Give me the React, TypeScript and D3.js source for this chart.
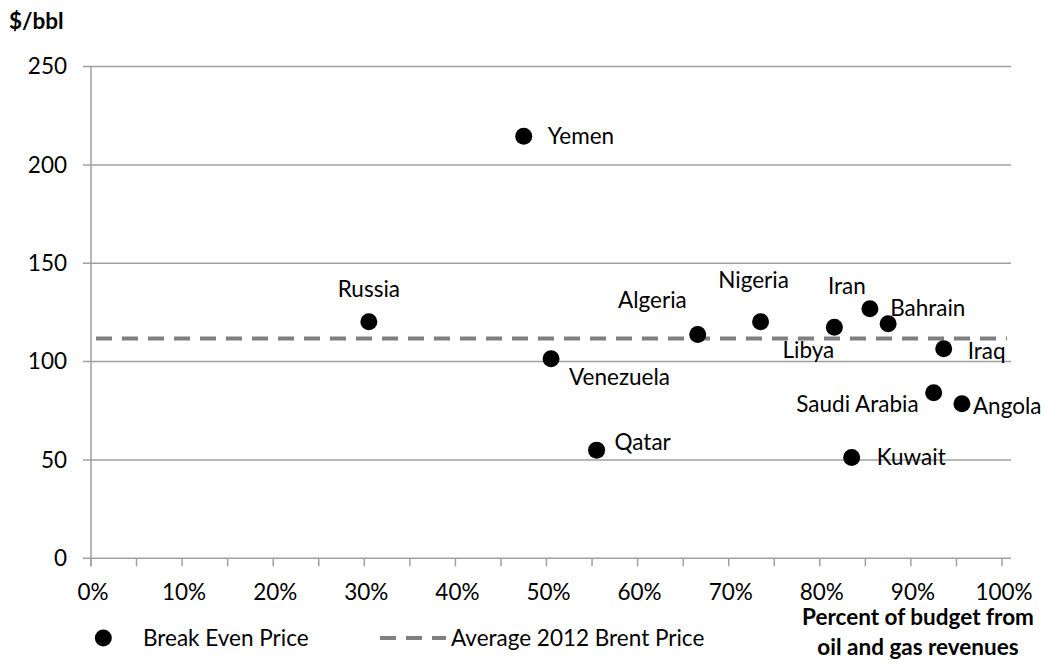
import React from "react";
import * as d3 from "d3";

const countries = ["Yemen", "Russia", "Venezuela", "Qatar", "Algeria", "Nigeria", "Libya", "Iran", "Bahrain", "Iraq", "Saudi Arabia", "Angola", "Kuwait"];
const budgetShare = [0.475, 0.305, 0.505, 0.555, 0.666, 0.735, 0.816, 0.855, 0.875, 0.936, 0.925, 0.956, 0.835];
const breakEven = [214.6, 120.3, 101.5, 55, 113.8, 120.3, 117.5, 126.9, 119.3, 106.5, 84.2, 78.6, 51.2];
const brentAvg2012 = 111.7;
const xTicks = [0, 0.1, 0.2, 0.3, 0.4, 0.5, 0.6, 0.7, 0.8, 0.9, 1.0];
const xMinorTicks = d3.range(0, 21).map((i) => i * 0.05);
const yTicks = [0, 50, 100, 150, 200, 250];
const legendLabels = ["Break Even Price", "Average 2012 Brent Price"];
const yAxisTitle = "$/bbl";
const xAxisTitle = ["Percent of budget from", "oil and gas revenues"];

// label placement relative to each dot: [dx, dy, anchor]
const labelPlacement: Record<string, [number, number, string]> = {
  Yemen: [24, 0, "start"],
  Russia: [0, -33, "middle"],
  Venezuela: [18, 18, "start"],
  Qatar: [18, -8, "start"],
  Algeria: [-11, -34, "end"],
  Nigeria: [-7, -42, "middle"],
  Libya: [-26, 23, "middle"],
  Iran: [-23, -23, "middle"],
  Bahrain: [2, -16, "start"],
  Iraq: [24, 2, "start"],
  "Saudi Arabia": [-15, 11, "end"],
  Angola: [11, 2, "start"],
  Kuwait: [25, 0, "start"],
};

const FONT = "Lato, 'Open Sans', sans-serif";
const FS = 22.5;
const GRID = "#a0a0a0";

export default function App() {
  const W = 1044, H = 665;
  const plotLeft = 91, plotRight = 1011, plotTop = 66.6, plotBottom = 558.3;
  const x = d3.scaleLinear().domain([0, 1]).range([91, 1002]);
  const y = d3.scaleLinear().domain([0, 250]).range([plotBottom, plotTop]);
  const pctFmt = d3.format(".0%");

  return (
    <svg width={W} height={H} style={{ position: "absolute", left: 0, top: 0, background: "#fff" }} fontFamily={FONT}>
      <rect x={0} y={0} width={W} height={H} fill="#fff" />
      {/* y title */}
      <text x={9} y={29} fontSize={FS} fontWeight="bold" fill="#000">{yAxisTitle}</text>
      {/* gridlines */}
      {yTicks.map((t) => (
        <g key={t}>
          <line x1={plotLeft - 8} x2={plotRight} y1={y(t)} y2={y(t)} stroke={GRID} strokeWidth={1.5} />
          <text x={67} y={y(t)} dy="0.35em" textAnchor="end" fontSize={FS} fill="#000">{t}</text>
        </g>
      ))}
      {/* y axis line */}
      <line x1={plotLeft} x2={plotLeft} y1={plotTop} y2={plotBottom + 8} stroke={GRID} strokeWidth={1.5} />
      {/* x ticks */}
      {xMinorTicks.map((t, i) => (
        <line key={i} x1={x(t)} x2={x(t)} y1={plotBottom} y2={plotBottom + 8} stroke={GRID} strokeWidth={1.5} />
      ))}
      {xTicks.map((t, i) => (
        <text key={i} x={x(t) + 2} y={592} dy="0.35em" textAnchor="middle" fontSize={FS} fill="#000">{pctFmt(t)}</text>
      ))}
      {/* Brent average line */}
      <line x1={x(0) + 5} x2={x(1) + 5} y1={y(brentAvg2012)} y2={y(brentAvg2012)} stroke="#808080" strokeWidth={4} strokeDasharray="16 10" />
      {/* points */}
      {countries.map((c, i) => {
        const px = x(budgetShare[i]);
        const py = y(breakEven[i]);
        const [dx, dy, anchor] = labelPlacement[c];
        return (
          <g key={c}>
            <circle cx={px} cy={py} r={8.5} fill="#000" />
            <text x={px + dx} y={py + dy} dy="0.35em" textAnchor={anchor as any} fontSize={FS} fill="#000">{c}</text>
          </g>
        );
      })}
      {/* legend */}
      <circle cx={103.3} cy={638} r={8.5} fill="#000" />
      <text x={143} y={638} dy="0.35em" fontSize={FS} fill="#000">{legendLabels[0]}</text>
      <line x1={380} x2={446} y1={638} y2={638} stroke="#808080" strokeWidth={4} strokeDasharray="16 10" />
      <text x={451} y={638} dy="0.35em" fontSize={FS} fill="#000">{legendLabels[1]}</text>
      {/* x title */}
      {xAxisTitle.map((l, i) => (
        <text key={i} x={918} y={617 + i * 30} dy="0.35em" textAnchor="middle" fontSize={FS} fontWeight="bold" fill="#000">{l}</text>
      ))}
    </svg>
  );
}
